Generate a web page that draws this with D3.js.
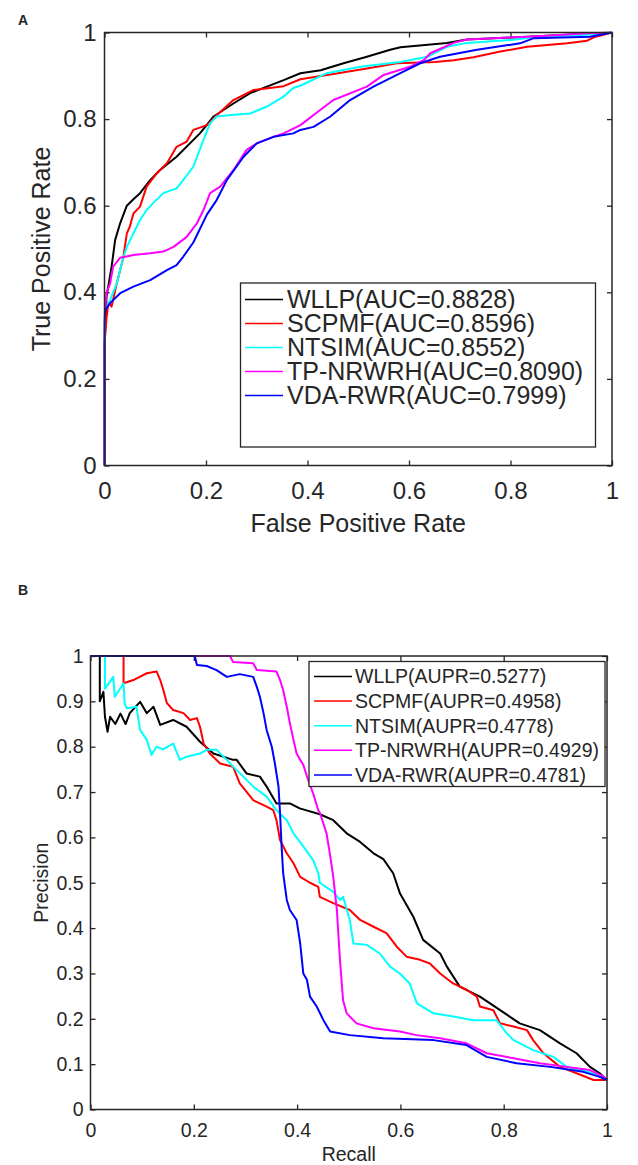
<!DOCTYPE html>
<html><head><meta charset="utf-8">
<script src="https://cdn.jsdelivr.net/npm/d3@7"></script>
<style>body{margin:0;background:#fff}svg{display:block}text{font-family:"Liberation Sans",Arial,sans-serif;fill:#262626}</style>
</head><body>
<svg id="fig" width="638" height="1165"></svg>
<script>
// ---------- data ----------
const seriesNames = ["WLLP","SCPMF","NTSIM","TP-NRWRH","VDA-RWR"];
const seriesColors = ["#000000","#ff0000","#00ffff","#ff00ff","#0000ff"];
const aucValues = ["0.8828","0.8596","0.8552","0.8090","0.7999"];
const auprValues = ["0.5277","0.4958","0.4778","0.4929","0.4781"];
const rocTicks = [0,0.2,0.4,0.6,0.8,1];
const prXTicks = [0,0.2,0.4,0.6,0.8,1];
const prYTicks = [0,0.1,0.2,0.3,0.4,0.5,0.6,0.7,0.8,0.9,1];

const rocWLLP = [[0,0],[0,0.28],[0.002,0.33],[0.004,0.39],[0.014,0.459],[0.021,0.521],[0.031,0.56],[0.044,0.6],[0.057,0.615],[0.07,0.629],[0.09,0.659],[0.109,0.682],[0.142,0.713],[0.188,0.767],[0.215,0.806],[0.254,0.836],[0.287,0.86],[0.32,0.875],[0.353,0.89],[0.386,0.906],[0.426,0.913],[0.471,0.929],[0.517,0.944],[0.563,0.96],[0.583,0.966],[0.675,0.976],[0.714,0.984],[0.813,0.989],[0.951,0.997],[1,1]];
const rocSCPMF = [[0,0],[0,0.28],[0.004,0.34],[0.0075,0.375],[0.014,0.367],[0.024,0.42],[0.037,0.48],[0.044,0.536],[0.05,0.552],[0.057,0.582],[0.07,0.598],[0.083,0.644],[0.103,0.675],[0.123,0.698],[0.142,0.736],[0.162,0.748],[0.175,0.775],[0.202,0.786],[0.221,0.809],[0.254,0.844],[0.293,0.867],[0.353,0.876],[0.386,0.892],[0.451,0.904],[0.517,0.917],[0.576,0.929],[0.651,0.932],[0.688,0.936],[0.727,0.943],[0.78,0.956],[0.833,0.967],[0.912,0.975],[0.951,0.981],[0.964,0.989],[1,1]];
const rocNTSIM = [[0,0],[0,0.27],[0.001,0.359],[0.011,0.382],[0.024,0.42],[0.037,0.48],[0.044,0.505],[0.057,0.536],[0.07,0.567],[0.083,0.59],[0.096,0.606],[0.116,0.629],[0.142,0.64],[0.155,0.659],[0.175,0.69],[0.195,0.752],[0.208,0.79],[0.221,0.806],[0.254,0.81],[0.287,0.813],[0.32,0.829],[0.353,0.852],[0.372,0.872],[0.386,0.877],[0.438,0.906],[0.504,0.921],[0.583,0.932],[0.636,0.944],[0.675,0.967],[0.714,0.976],[0.806,0.983],[0.846,0.989],[0.951,0.995],[1,1]];
const rocTPNRWRH = [[0,0],[0,0.3],[0.001,0.352],[0.004,0.398],[0.011,0.42],[0.017,0.459],[0.031,0.48],[0.057,0.486],[0.09,0.49],[0.116,0.494],[0.136,0.505],[0.162,0.528],[0.182,0.559],[0.195,0.59],[0.208,0.629],[0.228,0.644],[0.254,0.682],[0.28,0.729],[0.3,0.744],[0.326,0.756],[0.353,0.767],[0.386,0.786],[0.425,0.821],[0.451,0.844],[0.517,0.875],[0.55,0.902],[0.602,0.921],[0.629,0.936],[0.642,0.952],[0.688,0.976],[0.714,0.984],[0.846,0.991],[0.951,0.998],[1,1]];
const rocVDARWR = [[0,0],[0,0.33],[0.001,0.359],[0.011,0.375],[0.031,0.398],[0.057,0.413],[0.09,0.428],[0.123,0.451],[0.142,0.463],[0.155,0.482],[0.175,0.515],[0.202,0.58],[0.221,0.613],[0.241,0.659],[0.274,0.713],[0.3,0.744],[0.333,0.759],[0.372,0.767],[0.386,0.775],[0.412,0.782],[0.445,0.806],[0.484,0.844],[0.53,0.875],[0.583,0.906],[0.622,0.929],[0.661,0.944],[0.734,0.96],[0.819,0.975],[0.846,0.987],[0.957,0.99],[1,1]];

const prWLLP = [[0,1],[0.018,1],[0.018,0.9],[0.025,0.921],[0.028,0.866],[0.033,0.833],[0.038,0.866],[0.048,0.85],[0.058,0.873],[0.068,0.85],[0.076,0.874],[0.096,0.899],[0.109,0.874],[0.122,0.888],[0.135,0.848],[0.16,0.859],[0.186,0.844],[0.212,0.811],[0.238,0.785],[0.276,0.771],[0.283,0.771],[0.302,0.741],[0.328,0.734],[0.341,0.712],[0.36,0.675],[0.386,0.675],[0.405,0.664],[0.444,0.651],[0.47,0.638],[0.496,0.609],[0.522,0.59],[0.548,0.565],[0.567,0.552],[0.586,0.521],[0.599,0.477],[0.625,0.425],[0.644,0.374],[0.677,0.344],[0.69,0.315],[0.715,0.271],[0.754,0.249],[0.793,0.219],[0.831,0.19],[0.87,0.175],[0.909,0.146],[0.941,0.124],[0.967,0.094],[0.986,0.08],[1,0.065]];
const prSCPMF = [[0,1],[0.064,1],[0.064,0.94],[0.083,0.947],[0.109,0.962],[0.128,0.966],[0.135,0.947],[0.141,0.925],[0.148,0.896],[0.16,0.881],[0.18,0.874],[0.193,0.859],[0.206,0.863],[0.212,0.844],[0.219,0.807],[0.231,0.785],[0.251,0.763],[0.276,0.756],[0.289,0.719],[0.315,0.682],[0.341,0.668],[0.354,0.66],[0.36,0.638],[0.367,0.594],[0.38,0.565],[0.393,0.543],[0.406,0.513],[0.425,0.5],[0.441,0.491],[0.444,0.469],[0.47,0.455],[0.502,0.44],[0.522,0.418],[0.548,0.403],[0.573,0.389],[0.593,0.359],[0.612,0.337],[0.638,0.33],[0.657,0.322],[0.677,0.3],[0.702,0.278],[0.728,0.264],[0.748,0.249],[0.754,0.227],[0.78,0.219],[0.793,0.19],[0.819,0.183],[0.845,0.175],[0.857,0.153],[0.877,0.124],[0.909,0.094],[0.941,0.08],[0.974,0.065],[1,0.065]];
const prNTSIM = [[0,1],[0.028,1],[0.028,0.928],[0.044,0.954],[0.047,0.91],[0.064,0.94],[0.066,0.896],[0.07,0.885],[0.089,0.888],[0.096,0.837],[0.109,0.815],[0.118,0.782],[0.128,0.8],[0.14,0.794],[0.16,0.807],[0.173,0.771],[0.186,0.778],[0.212,0.785],[0.225,0.793],[0.244,0.793],[0.264,0.771],[0.276,0.756],[0.296,0.734],[0.315,0.712],[0.341,0.69],[0.36,0.66],[0.38,0.638],[0.393,0.609],[0.412,0.58],[0.431,0.55],[0.441,0.521],[0.444,0.5],[0.47,0.48],[0.483,0.462],[0.489,0.469],[0.502,0.418],[0.509,0.366],[0.535,0.363],[0.56,0.344],[0.58,0.315],[0.599,0.3],[0.618,0.278],[0.632,0.234],[0.664,0.212],[0.702,0.205],[0.741,0.197],[0.786,0.197],[0.806,0.168],[0.819,0.153],[0.857,0.131],[0.896,0.116],[0.922,0.094],[0.948,0.087],[0.974,0.08],[1,0.065]];
const prTPNRWRH = [[0,1],[0.27,1],[0.276,0.987],[0.315,0.984],[0.322,0.969],[0.36,0.966],[0.367,0.947],[0.373,0.925],[0.38,0.888],[0.386,0.852],[0.393,0.815],[0.399,0.785],[0.406,0.771],[0.412,0.76],[0.419,0.735],[0.431,0.697],[0.441,0.66],[0.444,0.655],[0.457,0.609],[0.464,0.56],[0.47,0.513],[0.477,0.44],[0.483,0.33],[0.489,0.241],[0.496,0.212],[0.515,0.19],[0.548,0.179],[0.599,0.172],[0.631,0.164],[0.677,0.157],[0.728,0.146],[0.767,0.124],[0.819,0.113],[0.87,0.102],[0.922,0.094],[0.967,0.087],[0.993,0.073],[1,0.065]];
const prVDARWR = [[0,1],[0.202,1],[0.206,0.98],[0.225,0.978],[0.244,0.969],[0.264,0.954],[0.289,0.96],[0.315,0.954],[0.322,0.932],[0.328,0.91],[0.335,0.874],[0.341,0.837],[0.351,0.8],[0.357,0.763],[0.364,0.712],[0.367,0.653],[0.37,0.58],[0.373,0.521],[0.38,0.462],[0.386,0.44],[0.399,0.418],[0.406,0.366],[0.412,0.3],[0.419,0.286],[0.425,0.249],[0.438,0.227],[0.451,0.197],[0.464,0.172],[0.502,0.164],[0.567,0.157],[0.664,0.153],[0.728,0.142],[0.767,0.116],[0.825,0.102],[0.89,0.094],[0.954,0.083],[0.986,0.072],[1,0.065]];

const rocSeries = [rocWLLP,rocSCPMF,rocNTSIM,rocTPNRWRH,rocVDARWR];
const prSeries = [prWLLP,prSCPMF,prNTSIM,prTPNRWRH,prVDARWR];

// ---------- drawing ----------
const svg = d3.select("#fig");
const fmt = d => String(+d.toFixed(2));

function panel(cfg){
  const x = d3.scaleLinear([0,1],[cfg.left,cfg.right]);
  const y = d3.scaleLinear([0,1],[cfg.bottom,cfg.top]);
  const g = svg.append("g");
  const tl = 5;
  // axes (ticks inward)
  const bx = g.append("g").attr("transform",`translate(0,${cfg.bottom})`)
    .call(d3.axisBottom(x).tickValues(cfg.xTicks).tickFormat(fmt).tickSizeInner(-tl).tickSizeOuter(0).tickPadding(cfg.xPad));
  const tx = g.append("g").attr("transform",`translate(0,${cfg.top})`)
    .call(d3.axisTop(x).tickValues(cfg.xTicks).tickFormat("").tickSizeInner(-tl).tickSizeOuter(0));
  const ly = g.append("g").attr("transform",`translate(${cfg.left},0)`)
    .call(d3.axisLeft(y).tickValues(cfg.yTicks).tickFormat(fmt).tickSizeInner(-tl).tickSizeOuter(0).tickPadding(cfg.yPad));
  const ry = g.append("g").attr("transform",`translate(${cfg.right},0)`)
    .call(d3.axisRight(y).tickValues(cfg.yTicks).tickFormat("").tickSizeInner(-tl).tickSizeOuter(0));
  [bx,tx,ly,ry].forEach(a=>{
    a.select(".domain").remove();
    a.selectAll("line").attr("stroke","#262626").attr("stroke-width",1.3);
    a.selectAll("text").attr("font-size",cfg.fs).attr("font-family","Liberation Sans, Arial, sans-serif").attr("fill","#262626");
  });
  bx.selectAll("text").attr("y",cfg.xPad).attr("dy","0.71em");
  // lines
  const line = d3.line().x(d=>x(d[0])).y(d=>y(d[1]));
  const clip = "clip"+cfg.id;
  svg.append("clipPath").attr("id",clip).append("rect")
    .attr("x",cfg.left-1).attr("y",cfg.top-1).attr("width",cfg.right-cfg.left+2).attr("height",cfg.bottom-cfg.top+2);
  g.append("g").attr("clip-path",`url(#${clip})`).selectAll("path").data(cfg.series).join("path")
    .attr("d",line).attr("fill","none").attr("stroke",(d,i)=>seriesColors[i])
    .attr("stroke-width",2).attr("stroke-linejoin","round");
  // box
  g.append("rect").attr("x",cfg.left).attr("y",cfg.top).attr("width",cfg.right-cfg.left).attr("height",cfg.bottom-cfg.top)
    .attr("fill","none").attr("stroke","#262626").attr("stroke-width",1.5);
  // axis labels
  g.append("text").attr("x",(cfg.left+cfg.right)/2).attr("y",cfg.xLabelY).attr("text-anchor","middle")
    .attr("font-size",cfg.lfs).text(cfg.xLabel);
  g.append("text").attr("transform",`translate(${cfg.yLabelX},${(cfg.top+cfg.bottom)/2}) rotate(-90)`)
    .attr("text-anchor","middle").attr("font-size",cfg.lfs).text(cfg.yLabel);
  // panel letter
  g.append("text").attr("x",18).attr("y",cfg.letterY).attr("font-size",14).attr("font-weight","bold")
    .attr("fill","#000").text(cfg.letter);
  // legend
  const L = cfg.legend;
  const lg = g.append("g");
  lg.append("rect").attr("x",L.x).attr("y",L.y).attr("width",L.w).attr("height",L.h)
    .attr("fill","#fff").attr("stroke","#262626").attr("stroke-width",1.3);
  seriesNames.forEach((n,i)=>{
    const cy = L.firstRow + i*L.rowH;
    lg.append("line").attr("x1",L.lx1).attr("x2",L.lx2).attr("y1",cy).attr("y2",cy)
      .attr("stroke",seriesColors[i]).attr("stroke-width",1.5);
    lg.append("text").attr("x",L.tx).attr("y",cy).attr("dy","0.35em").attr("font-size",L.fs)
      .attr("fill","#000").text(`${n}(${cfg.metric}=${cfg.values[i]})`);
  });
}

panel({id:"A", left:104.5, right:612, top:32.5, bottom:465.5,
  xTicks:rocTicks, yTicks:rocTicks, fs:24, lfs:25, xPad:16, yPad:8,
  series:rocSeries, xLabel:"False Positive Rate", yLabel:"True Positive Rate",
  xLabelY:532, yLabelX:50, letter:"A", letterY:25, metric:"AUC", values:aucValues,
  legend:{x:240.5,y:283,w:355,h:164,firstRow:299.5,rowH:24,lx1:245,lx2:283,tx:287,fs:25}});

panel({id:"B", left:90.5, right:607, top:656, bottom:1109.5,
  xTicks:prXTicks, yTicks:prYTicks, fs:19.5, lfs:19.5, xPad:13.5, yPad:7,
  series:prSeries, xLabel:"Recall", yLabel:"Precision",
  xLabelY:1161, yLabelX:48, letter:"B", letterY:595, metric:"AUPR", values:auprValues,
  legend:{x:309,y:661.5,w:296,h:125,firstRow:676.5,rowH:24.6,lx1:314,lx2:352,tx:355,fs:19.5}});
</script>
</body></html>
